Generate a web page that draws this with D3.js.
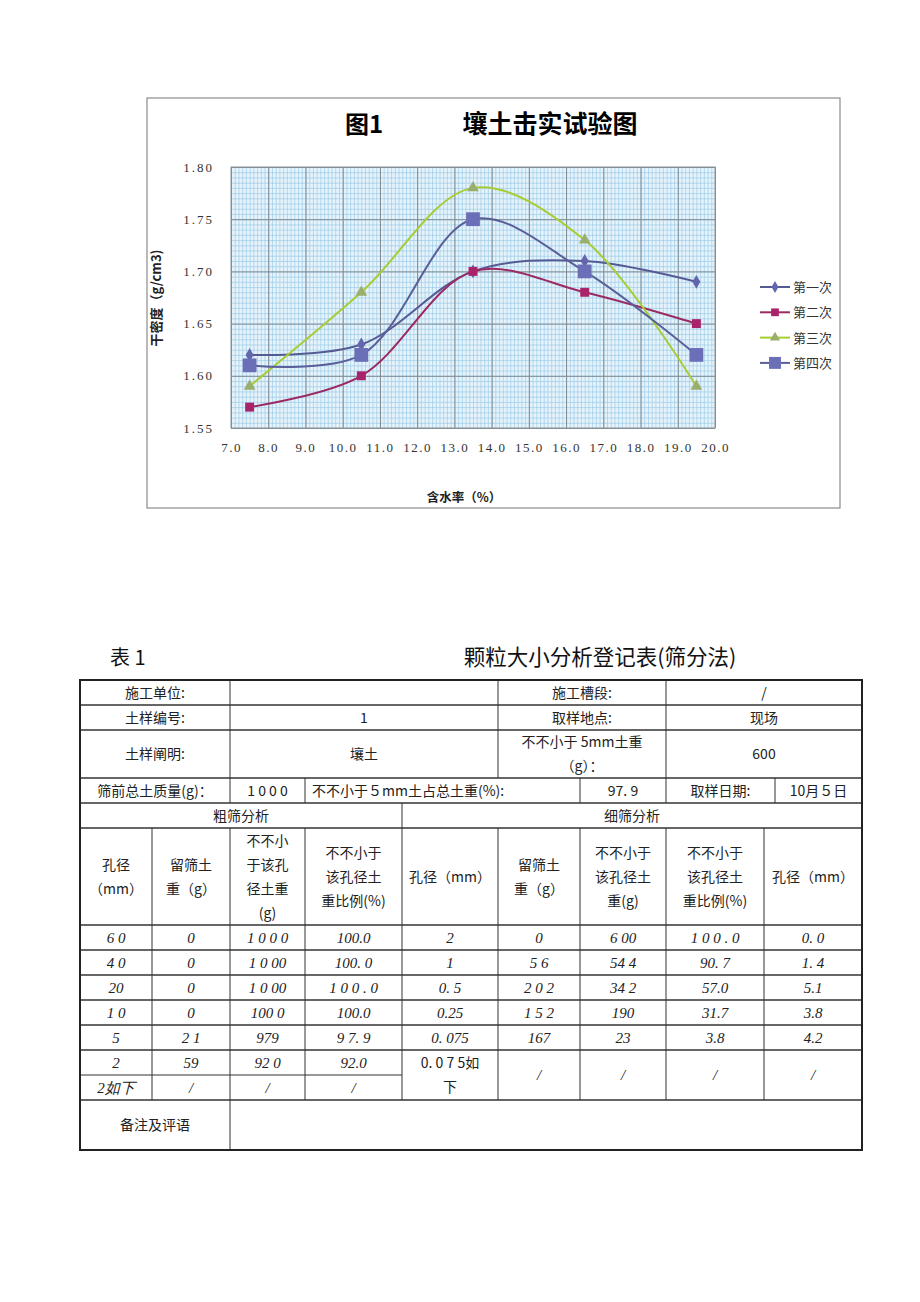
<!DOCTYPE html>
<html>
<head>
<meta charset="utf-8">
<title>壤土击实试验图</title>
<script src="https://d3js.org/d3.v7.min.js"></script>
<style>
  body, html { margin: 0; padding: 0; background: #fff; }
  svg { display: block; }
  .cjk { font-family: "Noto Sans CJK SC", "Noto Sans", sans-serif; }
  .num { font-family: "Liberation Serif", "DejaVu Serif", serif; }
</style>
</head>
<body>
<svg id="page"></svg>
<script>
// chart data
var moisture = [7.5, 10.5, 13.5, 16.5, 19.5];
var seriesNames = ["第一次", "第二次", "第三次", "第四次"];
var run1 = [1.62, 1.63, 1.70, 1.71, 1.69];
var run2 = [1.57, 1.60, 1.70, 1.68, 1.65];
var run3 = [1.59, 1.68, 1.78, 1.73, 1.59];
var run4 = [1.61, 1.62, 1.75, 1.70, 1.62];
var xTicks = [7, 8, 9, 10, 11, 12, 13, 14, 15, 16, 17, 18, 19, 20];
var yTicks = [1.55, 1.60, 1.65, 1.70, 1.75, 1.80];

// table data
var infoRow1 = ["施工单位:", "", "施工槽段:", "/"];
var infoRow2 = ["土样编号:", "1", "取样地点:", "现场"];
var infoRow3 = ["土样阐明:", "壤土", "不不小于 5mm土重|（g）：", "600"];
var infoRow4 = ["筛前总土质量(g)：", "1 0 0 0", "不不小于５mm土占总土重(%):", "97.  9", "取样日期:", "10月５日"];
var groupRow = ["粗筛分析", "细筛分析"];
var headRow = ["孔径|（mm）", "留筛土|重（g）", "不不小|于该孔|径土重|(g)", "不不小于|该孔径土|重比例(%)",
  "孔径（mm）", "留筛土|重（g）", "不不小于|该孔径土|重(g)", "不不小于|该孔径土|重比例(%)", "孔径（mm）"];
var coarseRows = [
  ["6 0", "0", "1 0 0 0", "100.0"],
  ["4 0", "0", "1 0 00", "100.  0"],
  ["20", "0", "1 0 00", "1 0 0 . 0"],
  ["1 0", "0", "100 0", "100.0"],
  ["5", "2 1", "979", "9 7. 9"],
  ["2", "59", "92 0", "92.0"],
  ["2如下", "/", "/", "/"]
];
var fineRows = [
  ["2", "0", "6 00", "1 0 0 . 0", "0.  0"],
  ["1", "5 6", "54 4", "90. 7", "1.  4"],
  ["0. 5", "2 0 2", "34 2", "57.0", "5.1"],
  ["0.25", "1 5 2", "190", "31.7", "3.8"],
  ["0. 075", "167", "23", "3.8", "4.2"],
  ["0. 0 7 5如|下", "/", "/", "/", "/"]
];
var remarkLabel = "备注及评语";

var W = 920, H = 1302;
var svg = d3.select("#page").attr("width", W).attr("height", H);
svg.append("rect").attr("width", W).attr("height", H).attr("fill", "#fff");

// ---------- chart ----------
var frame = {x: 147, y: 98, w: 693, h: 410};
svg.append("rect")
  .attr("x", frame.x).attr("y", frame.y).attr("width", frame.w).attr("height", frame.h)
  .attr("fill", "#fff").attr("stroke", "#8c8c8c").attr("stroke-width", 1.2);

svg.append("text").attr("class", "cjk")
  .attr("x", 364).attr("y", 133).attr("text-anchor", "middle")
  .style("font-size", "24px").style("font-weight", "bold").text("图1");
svg.append("text").attr("class", "cjk")
  .attr("x", 550).attr("y", 133).attr("text-anchor", "middle")
  .style("font-size", "25px").style("font-weight", "bold").text("壤土击实试验图");

var xScale = d3.scaleLinear().domain([7, 20]).range([231, 715]);
var yScale = d3.scaleLinear().domain([1.55, 1.80]).range([428, 167]);

var plot = svg.append("g");
plot.append("rect")
  .attr("x", xScale(7)).attr("y", yScale(1.80))
  .attr("width", xScale(20) - xScale(7)).attr("height", yScale(1.55) - yScale(1.80))
  .attr("fill", "#e6f3fb");

// minor grid
plot.append("g")
  .attr("transform", "translate(0," + yScale(1.55) + ")")
  .call(d3.axisBottom(xScale).ticks(130).tickSize(-(yScale(1.55) - yScale(1.80))).tickFormat(""))
  .call(g => g.select(".domain").remove())
  .call(g => g.selectAll("line").attr("stroke", "#9ccbe6").attr("stroke-width", 0.7));
plot.append("g")
  .attr("transform", "translate(" + xScale(7) + ",0)")
  .call(d3.axisLeft(yScale).tickValues(d3.range(0, 51).map(i => 1.55 + i * 0.005))
    .tickSize(-(xScale(20) - xScale(7))).tickFormat(""))
  .call(g => g.select(".domain").remove())
  .call(g => g.selectAll("line").attr("stroke", "#9ccbe6").attr("stroke-width", 0.7));

// major grid
plot.append("g")
  .attr("transform", "translate(0," + yScale(1.55) + ")")
  .call(d3.axisBottom(xScale).tickValues(xTicks).tickSize(-(yScale(1.55) - yScale(1.80))).tickFormat(""))
  .call(g => g.select(".domain").remove())
  .call(g => g.selectAll("line").attr("stroke", "#7f8a92").attr("stroke-width", 1));
plot.append("g")
  .attr("transform", "translate(" + xScale(7) + ",0)")
  .call(d3.axisLeft(yScale).tickValues(yTicks).tickSize(-(xScale(20) - xScale(7))).tickFormat(""))
  .call(g => g.select(".domain").remove())
  .call(g => g.selectAll("line").attr("stroke", "#7f8a92").attr("stroke-width", 1));
plot.append("rect")
  .attr("x", xScale(7)).attr("y", yScale(1.80))
  .attr("width", xScale(20) - xScale(7)).attr("height", yScale(1.55) - yScale(1.80))
  .attr("fill", "none").attr("stroke", "#8a9499").attr("stroke-width", 1);

// tick labels
var yAxis = svg.append("g")
  .attr("transform", "translate(" + (xScale(7) - 14) + ",0)")
  .call(d3.axisLeft(yScale).tickValues(yTicks).tickSize(0).tickFormat(d3.format(".2f")));
yAxis.select(".domain").remove();
yAxis.selectAll("text").attr("class", "num")
  .style("font-size", "13px").attr("fill", "#333").style("letter-spacing", "2px");

var xAxis = svg.append("g")
  .attr("transform", "translate(0," + (yScale(1.55) + 12) + ")")
  .call(d3.axisBottom(xScale).tickValues(xTicks).tickSize(0).tickFormat(d3.format(".1f")));
xAxis.select(".domain").remove();
xAxis.selectAll("text").attr("class", "num")
  .style("font-size", "13px").attr("fill", "#333").style("letter-spacing", "1.5px");

svg.append("text").attr("class", "cjk")
  .attr("transform", "translate(161,298) rotate(-90)")
  .attr("text-anchor", "middle")
  .style("font-size", "13px").style("font-weight", "bold").attr("fill", "#222")
  .text("干密度（g/cm3)");
svg.append("text").attr("class", "cjk")
  .attr("x", 464).attr("y", 502).attr("text-anchor", "middle")
  .style("font-size", "12.5px").style("font-weight", "bold").attr("fill", "#222")
  .text("含水率（%）");

var runs = [run1, run2, run3, run4];
var lineColors = ["#555a94", "#9b2a62", "#a8cc34", "#5a5f99"];
var markerColors = ["#6366ad", "#a8236a", "#9aae6e", "#6b6fb8"];
var markerShapes = [d3.symbolDiamond, d3.symbolSquare, d3.symbolTriangle, d3.symbolSquare];
var markerSizes = [55, 80, 60, 190];

var line = d3.line()
  .x((d, i) => xScale(moisture[i]))
  .y(d => yScale(d))
  .curve(d3.curveCatmullRom.alpha(0.5));

runs.forEach(function(vals, s) {
  svg.append("path")
    .attr("d", line(vals))
    .attr("fill", "none")
    .attr("stroke", lineColors[s])
    .attr("stroke-width", 2);
});
runs.forEach(function(vals, s) {
  svg.append("g").selectAll("path")
    .data(vals)
    .join("path")
    .attr("transform", (d, i) => "translate(" + xScale(moisture[i]) + "," + yScale(d) + ")")
    .attr("d", d3.symbol().type(markerShapes[s]).size(markerSizes[s]))
    .attr("fill", markerColors[s]);
});

// legend
var legend = svg.append("g").selectAll("g")
  .data(seriesNames)
  .join("g")
  .attr("transform", (d, i) => "translate(760," + (287 + i * 25.3) + ")");
legend.append("line")
  .attr("x1", 0).attr("x2", 30)
  .attr("stroke", (d, i) => lineColors[i]).attr("stroke-width", 2);
legend.append("path")
  .attr("transform", "translate(15,0)")
  .attr("d", (d, i) => d3.symbol().type(markerShapes[i]).size(markerSizes[i] * 0.75)())
  .attr("fill", (d, i) => markerColors[i]);
legend.append("text").attr("class", "cjk")
  .attr("x", 33).attr("y", 5)
  .style("font-size", "13px").attr("fill", "#333")
  .text(d => d);

// ---------- table ----------
svg.append("text").attr("class", "cjk")
  .attr("x", 110).attr("y", 665)
  .style("font-size", "20px").attr("fill", "#111").text("表 1");
svg.append("text").attr("class", "cjk")
  .attr("x", 600).attr("y", 665).attr("text-anchor", "middle")
  .style("font-size", "21.5px").attr("fill", "#111").text("颗粒大小分析登记表(筛分法)");

var tbl = svg.append("g");
var lineH = 24;

function cellText(x0, x1, y0, y1, txt, opts) {
  opts = opts || {};
  var parts = txt.split("|");
  var cy = (y0 + y1) / 2;
  var startY = cy - (parts.length - 1) * lineH / 2 + 5;
  var t = tbl.append("text")
    .attr("class", opts.italic ? "num" : "cjk")
    .attr("text-anchor", opts.left ? "start" : "middle")
    .style("font-size", opts.italic ? "15px" : "14px")
    .style("font-style", opts.italic ? "italic" : "normal")
    .attr("fill", "#222");
  parts.forEach(function(p, i) {
    t.append("tspan")
      .attr("x", opts.left ? x0 + 7 : (x0 + x1) / 2)
      .attr("y", startY + i * lineH)
      .text(p);
  });
}

function hline(x0, x1, y, w) {
  tbl.append("line").attr("x1", x0).attr("x2", x1).attr("y1", y).attr("y2", y)
    .attr("stroke", "#333").attr("stroke-width", w || 1);
}
function vline(x, y0, y1, w) {
  tbl.append("line").attr("x1", x).attr("x2", x).attr("y1", y0).attr("y2", y1)
    .attr("stroke", "#333").attr("stroke-width", w || 1);
}

var L = 80, R = 862;
var rowY = [680, 705, 730, 778, 803, 828, 925];
var colsA = [80, 230, 498, 666, 862];
var colsB = [80, 230, 305, 580, 666, 775, 862];
var colsC = [80, 402, 862];
var colsD = [80, 152, 230, 305, 402, 498, 580, 666, 764, 862];
var dataH = 25;

// info rows
[infoRow1, infoRow2, infoRow3].forEach(function(row, r) {
  row.forEach(function(txt, c) {
    cellText(colsA[c], colsA[c + 1], rowY[r], rowY[r + 1], txt);
  });
  colsA.slice(1, -1).forEach(x => vline(x, rowY[r], rowY[r + 1]));
});
infoRow4.forEach(function(txt, c) {
  cellText(colsB[c], colsB[c + 1], rowY[3], rowY[4], txt, {left: c === 2});
});
colsB.slice(1, -1).forEach(x => vline(x, rowY[3], rowY[4]));
groupRow.forEach(function(txt, c) {
  cellText(colsC[c], colsC[c + 1], rowY[4], rowY[5], txt);
});
vline(colsC[1], rowY[4], rowY[5]);
headRow.forEach(function(txt, c) {
  cellText(colsD[c], colsD[c + 1], rowY[5], rowY[6], txt);
});
for (var r = 1; r < rowY.length; r++) hline(L, R, rowY[r], 1.6);

// data rows
var y0 = rowY[6];
coarseRows.forEach(function(row, r) {
  row.forEach(function(txt, c) {
    cellText(colsD[c], colsD[c + 1], y0 + r * dataH, y0 + (r + 1) * dataH, txt, {italic: true});
  });
});
fineRows.forEach(function(row, r) {
  var span = (r === fineRows.length - 1) ? 2 : 1;
  row.forEach(function(txt, c) {
    cellText(colsD[c + 4], colsD[c + 5], y0 + r * dataH, y0 + (r + span) * dataH, txt,
      {italic: !(r === fineRows.length - 1 && c === 0)});
  });
});
var dataEnd = y0 + coarseRows.length * dataH;
for (var i = 1; i < coarseRows.length; i++) {
  var yy = y0 + i * dataH;
  if (i === coarseRows.length - 1) hline(L, colsD[4], yy, 1.2);
  else hline(L, R, yy, 1.6);
}
colsD.slice(1, -1).forEach(x => vline(x, rowY[5], dataEnd));
hline(L, R, dataEnd, 1.6);

// remarks row
var remarkEnd = 1150;
cellText(L, colsA[1], dataEnd, remarkEnd, remarkLabel);
vline(colsA[1], dataEnd, remarkEnd);

// outer border
tbl.append("rect")
  .attr("x", L).attr("y", rowY[0]).attr("width", R - L).attr("height", remarkEnd - rowY[0])
  .attr("fill", "none").attr("stroke", "#222").attr("stroke-width", 2);
</script>
</body>
</html>
